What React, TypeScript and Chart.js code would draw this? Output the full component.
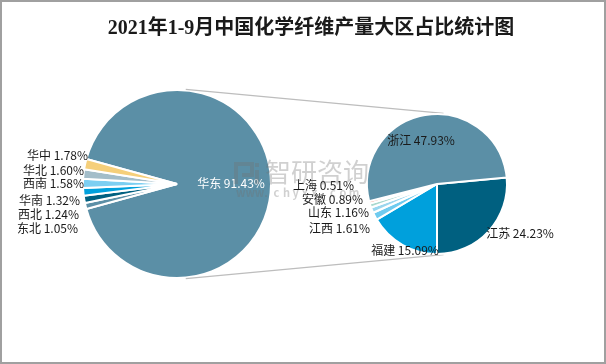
import React, { useEffect, useRef } from "react";
import { Chart, registerables } from "chart.js";
Chart.register(...registerables);

const TITLE = "2021年1-9月中国化学纤维产量大区占比统计图";

// Left pie: regions (clockwise order starting with 华东)
const regionLabels = ["华东", "东北", "西北", "华南", "西南", "华北", "华中"];
const regionValues = [91.43, 1.05, 1.24, 1.32, 1.58, 1.6, 1.78];
const regionColors = ["#5B8FA6", "#5B8FA6", "#006080", "#00A0DC", "#7CCFF2", "#A3BDC9", "#F5CF7A"];

// Right pie: breakdown of 华东 (clockwise order starting with 江苏)
const eastLabels = ["江苏", "福建", "江西", "山东", "安徽", "上海", "浙江"];
const eastValues = [24.23, 15.09, 1.61, 1.16, 0.89, 0.51, 47.93];
const eastColors = ["#006080", "#00A0DC", "#6FCBEF", "#9AD6EE", "#A8D8CE", "#F08872", "#5B8FA6"];

// label layout offsets (relative to pie centre / edge)
const leftSmallOrder = [6, 5, 4, 3, 2, 1]; // top to bottom
const leftSmallDx = [5, 1, 1, -3, -4, -5];
const leftSmallDy = [-29, -14, -1, 16, 30, 44];
const rightSmallOrder = [5, 4, 3, 2];
const rightSmallDx = [-13, -4, 2, 3];
const rightSmallDy = [1, 15, 28, 44];

const FONT = '"Noto Sans CJK SC", "Microsoft YaHei", sans-serif';
const fmt = (v: number) => v.toFixed(2) + "%";

export default function App() {
  const c1 = useRef<HTMLCanvasElement>(null);
  const c2 = useRef<HTMLCanvasElement>(null);

  useEffect(() => {
    const sum1 = regionValues.reduce((a, b) => a + b, 0);
    const rot1 = 90 - (regionValues[0] / sum1) * 180;
    const sum2 = eastValues.reduce((a, b) => a + b, 0);
    const rot2 = 180 - (eastValues[0] / sum2) * 360;

    const chart1 = new Chart(c1.current!, {
      type: "pie",
      data: {
        labels: regionLabels,
        datasets: [
          {
            data: regionValues,
            backgroundColor: regionColors,
            borderColor: "#ffffff",
            borderWidth: 2,
            hoverOffset: 0,
          },
        ],
      },
      options: {
        responsive: false,
        animation: false,
        rotation: rot1,
        events: [],
        layout: { padding: { left: 82, right: 334, top: 89, bottom: 85 } },
        plugins: { legend: { display: false }, tooltip: { enabled: false } },
      },
      plugins: [
        {
          id: "deco1",
          beforeDraw(chart: any) {
            const ctx = chart.ctx;
            ctx.save();
            ctx.fillStyle = "#ffffff";
            ctx.fillRect(0, 0, chart.width, chart.height);
            ctx.strokeStyle = "#a0a0a0";
            ctx.lineWidth = 2;
            ctx.strokeRect(1, 1, chart.width - 2, chart.height - 2);
            ctx.fillStyle = "#1a1a1a";
            ctx.font = '600 20px "Liberation Serif", "Noto Sans CJK SC", serif';
            ctx.textAlign = "center";
            ctx.textBaseline = "middle";
            ctx.fillText(TITLE, 311, 29);
            ctx.restore();
          },
          afterDatasetsDraw(chart: any) {
            const ctx = chart.ctx;
            const arcs = chart.getDatasetMeta(0).data;
            const a0 = arcs[0];
            const cx = a0.x, cy = a0.y, r = a0.outerRadius;
            ctx.save();
            ctx.font = "12px " + FONT;
            ctx.textBaseline = "middle";
            ctx.textAlign = "center";
            ctx.fillStyle = "#ffffff";
            ctx.fillText(regionLabels[0] + " " + fmt(regionValues[0]), cx + 54, cy - 1);
            ctx.textAlign = "right";
            ctx.fillStyle = "#1a1a1a";
            leftSmallOrder.forEach((idx, k) => {
              ctx.fillText(
                regionLabels[idx] + " " + fmt(regionValues[idx]),
                cx - r + leftSmallDx[k],
                cy + leftSmallDy[k]
              );
            });
            ctx.restore();
          },
        },
      ],
    } as any);

    const chart2 = new Chart(c2.current!, {
      type: "pie",
      data: {
        labels: eastLabels,
        datasets: [
          {
            data: eastValues,
            backgroundColor: eastColors,
            borderColor: "#ffffff",
            borderWidth: 2,
            hoverOffset: 0,
          },
        ],
      },
      options: {
        responsive: false,
        animation: false,
        rotation: rot2,
        events: [],
        layout: { padding: { left: 366, right: 98, top: 113, bottom: 109 } },
        plugins: { legend: { display: false }, tooltip: { enabled: false } },
      },
      plugins: [
        {
          id: "deco2",
          beforeDatasetsDraw(chart: any) {
            const ctx = chart.ctx;
            const A = chart1.getDatasetMeta(0).data[0] as any;
            const B = chart.getDatasetMeta(0).data[0];
            const x1 = A.x, y1 = A.y, r1 = A.outerRadius + 1;
            const x2 = B.x, y2 = B.y, r2 = B.outerRadius + 1;
            const d = Math.hypot(x2 - x1, y2 - y1);
            const base = Math.atan2(y2 - y1, x2 - x1);
            const phi = Math.acos((r1 - r2) / d);
            ctx.save();
            ctx.strokeStyle = "#bdbdbd";
            ctx.lineWidth = 1.3;
            [base - phi, base + phi].forEach((t) => {
              ctx.beginPath();
              ctx.moveTo(x1 + r1 * Math.cos(t), y1 + r1 * Math.sin(t));
              ctx.lineTo(x2 + r2 * Math.cos(t), y2 + r2 * Math.sin(t));
              ctx.stroke();
            });
            ctx.restore();
          },
          afterDatasetsDraw(chart: any) {
            const ctx = chart.ctx;
            const arcs = chart.getDatasetMeta(0).data;
            const a0 = arcs[0];
            const cx = a0.x, cy = a0.y, r = a0.outerRadius;
            ctx.save();
            ctx.font = "12px " + FONT;
            ctx.textBaseline = "middle";
            ctx.fillStyle = "#1a1a1a";
            ctx.textAlign = "center";
            ctx.fillText(eastLabels[6] + " " + fmt(eastValues[6]), cx - 16, cy - 44);
            ctx.fillText(eastLabels[0] + " " + fmt(eastValues[0]), cx + 83, cy + 49);
            ctx.fillText(eastLabels[1] + " " + fmt(eastValues[1]), cx - 32, cy + 66);
            ctx.textAlign = "right";
            rightSmallOrder.forEach((idx, k) => {
              ctx.fillText(
                eastLabels[idx] + " " + fmt(eastValues[idx]),
                cx - r + rightSmallDx[k],
                cy + rightSmallDy[k]
              );
            });
            ctx.restore();
          },
          afterDraw(chart: any) {
            const ctx = chart.ctx;
            ctx.save();
            ctx.globalAlpha = 0.33;
            ctx.fillStyle = "#707070";
            ctx.strokeStyle = "#707070";
            // logo mark
            ctx.lineWidth = 4;
            ctx.beginPath();
            ctx.moveTo(236, 184);
            ctx.lineTo(236, 164);
            ctx.lineTo(252, 164);
            ctx.lineTo(252, 175);
            ctx.lineTo(242, 175);
            ctx.stroke();
            ctx.fillRect(255, 170, 4, 14);
            ctx.fillRect(255, 163, 4, 4);
            ctx.textBaseline = "middle";
            ctx.textAlign = "left";
            ctx.font = "26px " + FONT;
            ctx.fillText("智研咨询", 265, 172);
            ctx.font = "bold 11px " + FONT;
            const s = "www.chyxx.com";
            for (let i = 0; i < s.length; i++) {
              ctx.fillText(s[i], 236 + i * 9.4, 193);
            }
            ctx.restore();
          },
        },
      ],
    } as any);

    return () => {
      chart2.destroy();
      chart1.destroy();
    };
  }, []);

  return (
    <div style={{ position: "fixed", left: 0, top: 0, width: 606, height: 364, background: "#fff" }}>
      <canvas ref={c1} width={606} height={364} style={{ position: "absolute", left: 0, top: 0 }} />
      <canvas ref={c2} width={606} height={364} style={{ position: "absolute", left: 0, top: 0 }} />
    </div>
  );
}
